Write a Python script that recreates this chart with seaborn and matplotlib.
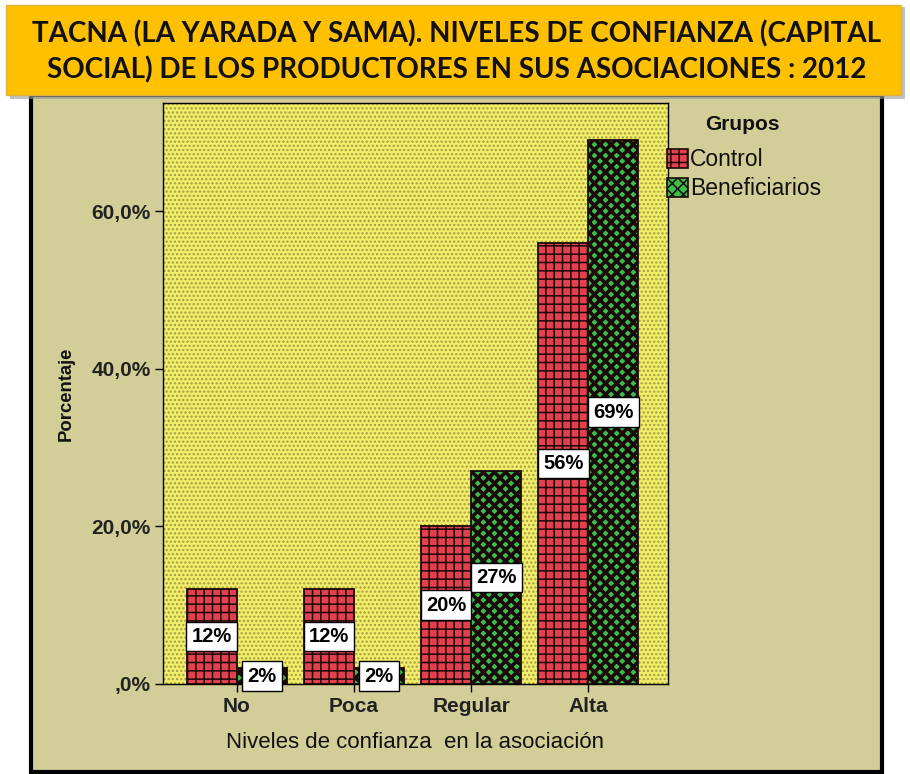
import matplotlib
matplotlib.use("Agg")
import matplotlib.pyplot as plt
from matplotlib.patches import Rectangle, Patch
import pandas as pd
import seaborn as sns

# Survey results: trust levels of producers in their associations (Tacna, 2012)
niveles = ["No", "Poca", "Regular", "Alta"]
control = [12, 12, 20, 56]
beneficiarios = [2, 2, 27, 69]
grupos = ["Control", "Beneficiarios"]
y_ticks = [0, 20, 40, 60]
y_tick_labels = [",0%", "20,0%", "40,0%", "60,0%"]

df = pd.DataFrame({
    "nivel": niveles * 2,
    "grupo": [grupos[0]] * len(niveles) + [grupos[1]] * len(niveles),
    "pct": control + beneficiarios,
})

sns.set_theme(style="white")
plt.rcParams["font.family"] = ["Liberation Sans", "DejaVu Sans"]
plt.rcParams["hatch.linewidth"] = 1.1

W, H = 910, 774
fig = plt.figure(figsize=(W / 100, H / 100), dpi=100)
fig.patch.set_facecolor("white")

# khaki panel with black frame
panel = Rectangle((31 / W, 2 / H), 851 / W, (H - 2 - 95) / H, transform=fig.transFigure,
                  facecolor="#D3CE98", edgecolor="black", lw=3, zorder=-3)
fig.patches.append(panel)

# title banner with a soft shadow
shadow = Rectangle((10 / W, (H - 99) / H), 895 / W, 92 / H, transform=fig.transFigure,
                   facecolor="#8C9AA0", edgecolor="none", alpha=0.6, zorder=-2)
banner = Rectangle((6 / W, (H - 95) / H), 895 / W, 90 / H, transform=fig.transFigure,
                   facecolor="#FFC000", edgecolor="#E0B040", lw=1, zorder=-1)
fig.patches.extend([shadow, banner])
title_kw = dict(ha="center", va="center", fontsize=20, fontweight="bold",
                family=["Lato", "DejaVu Sans"], color="#111111", zorder=3)
fig.text(457 / W, 1 - 34 / H, "TACNA (LA YARADA Y SAMA). NIVELES DE CONFIANZA (CAPITAL", **title_kw)
fig.text(457 / W, 1 - 70 / H, "SOCIAL) DE LOS PRODUCTORES EN SUS ASOCIACIONES : 2012", **title_kw)

ax = fig.add_axes([163 / W, 90 / H, 505 / W, 581 / H])
ax.set_facecolor("#F2EE6C")
ax.add_patch(Rectangle((0, 0), 1, 1, transform=ax.transAxes, facecolor="none",
                       edgecolor="#A59E3C", lw=0, hatch="....", zorder=0))

red, green = "#E2404C", "#3CBE4E"
sns.barplot(data=df, x="nivel", y="pct", hue="grupo", order=niveles, hue_order=grupos,
            palette=[red, green], width=0.855, gap=0, edgecolor="black", linewidth=1.3,
            saturation=1, legend=False, ax=ax, zorder=2)

hatches = ["++", "xxx"]
hatch_lw = [1.1, 2.6]
for cont, hatch, hlw, vals in zip(ax.containers, hatches, hatch_lw, [control, beneficiarios]):
    for bar, v in zip(cont, vals):
        bar.set_hatch(hatch)
        bar.set_edgecolor("#1A0A0A")
        if hasattr(bar, "set_hatch_linewidth"):
            bar.set_hatch_linewidth(hlw)
        cx = bar.get_x() + bar.get_width() / 2
        ax.text(cx, v / 2, f"{v}%", ha="center", va="center", fontsize=14.5, fontweight="bold",
                color="black", zorder=5,
                bbox=dict(boxstyle="square,pad=0.26", facecolor="white", edgecolor="black", lw=1))

ax.set_xlim(-0.63, 3.68)
ax.set_ylim(0, 73.7)
ax.set_yticks(y_ticks)
ax.set_yticklabels(y_tick_labels)
ax.tick_params(axis="both", which="both", direction="out", length=6, width=1, color="black",
               left=True, bottom=True, labelsize=15, pad=3)
for lab in ax.get_xticklabels() + ax.get_yticklabels():
    lab.set_fontweight("bold")
    lab.set_color("#222222")
for s in ax.spines.values():
    s.set_visible(True)
    s.set_color("black")
    s.set_linewidth(1)

ax.set_xlabel("Niveles de confianza  en la asociación", fontsize=16, color="#111111", labelpad=12)
ax.set_ylabel("Porcentaje", fontsize=13.3, fontweight="bold", color="#111111", labelpad=12)

# legend: group title as its own text, entries below it
fig.text(742 / W, 1 - 125 / H, "Grupos", ha="center", va="center", fontsize=15,
         fontweight="bold", color="#111111")
handles = [Patch(facecolor=red, edgecolor="#1A0A0A", hatch="++", lw=1.2),
           Patch(facecolor=green, edgecolor="#1A0A0A", hatch="xxx", lw=1.2)]
if hasattr(handles[1], "set_hatch_linewidth"):
    handles[1].set_hatch_linewidth(2.6)
leg = ax.legend(handles, grupos, loc="upper left",
                bbox_to_anchor=(667 / W, 1 - 148 / H), bbox_transform=fig.transFigure,
                frameon=False, fontsize=16.5, handlelength=0.9,
                handleheight=0.9, handletextpad=0.1, labelspacing=0.28, borderaxespad=0,
                borderpad=0)
for t in leg.get_texts():
    t.set_color("#111111")

fig.savefig("out.png", dpi=100, facecolor=fig.get_facecolor())
